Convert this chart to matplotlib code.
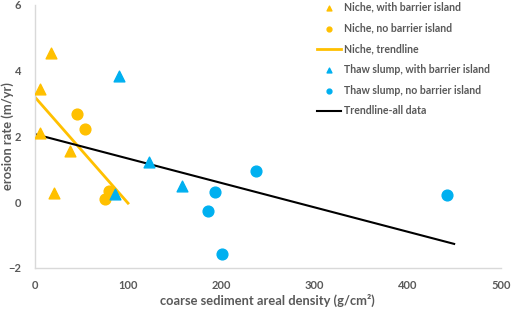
import numpy as np
import matplotlib.pyplot as plt

plt.rcParams['font.family'] = ['Lato', 'DejaVu Sans']

# niche, with barrier island
niche_bi_x = [17, 6, 5.5, 37.5, 20.5]
niche_bi_y = [4.55, 3.45, 2.1, 1.55, 0.27]
# niche, no barrier island
niche_nb_x = [45, 53.5, 75, 80]
niche_nb_y = [2.67, 2.24, 0.1, 0.35]
# thaw slump, with barrier island
thaw_bi_x = [90, 122, 158, 86]
thaw_bi_y = [3.85, 1.22, 0.5, 0.25]
# thaw slump, no barrier island
thaw_nb_x = [193, 186, 201, 237, 442]
thaw_nb_y = [0.3, -0.27, -1.58, 0.94, 0.21]
# trendlines (end points)
niche_trend_x = [0, 100]
niche_trend_y = [3.2, -0.03]
all_trend_x = [0, 450]
all_trend_y = [2.07, -1.27]

orange = '#FFC000'
blue = '#00B0F0'
grey = '#595959'

fig = plt.figure(figsize=(5.12, 3.09), dpi=100)
ax = fig.add_axes([0.068, 0.133, 0.91, 0.851])

ax.scatter(niche_bi_x, niche_bi_y, marker='^', s=60, color=orange,
           label='Niche, with barrier island', zorder=3)
ax.scatter(niche_nb_x, niche_nb_y, marker='o', s=60, color=orange,
           label='Niche, no barrier island', zorder=3)
ax.plot(niche_trend_x, niche_trend_y, color=orange, lw=2,
        label='Niche, trendline', zorder=2)
ax.scatter(thaw_bi_x, thaw_bi_y, marker='^', s=60, color=blue,
           label='Thaw slump, with barrier island', zorder=3)
ax.scatter(thaw_nb_x, thaw_nb_y, marker='o', s=60, color=blue,
           label='Thaw slump, no barrier island', zorder=3)
ax.plot(all_trend_x, all_trend_y, color='black', lw=1.5,
        label='Trendline-all data', zorder=2)

ax.set_xlim(0, 500)
ax.set_ylim(-2, 6)
ax.set_xticks([0, 100, 200, 300, 400, 500])
ax.set_yticks([-2, 0, 2, 4, 6])
for s in ['top', 'right']:
    ax.spines[s].set_visible(False)
for s in ['left', 'bottom']:
    ax.spines[s].set_color('#D9D9D9')
    ax.spines[s].set_linewidth(1)
ax.tick_params(length=0, labelsize=8, labelcolor=grey)
ax.tick_params(axis='x', pad=9)
ax.tick_params(axis='y', pad=10)
for lab in ax.get_xticklabels() + ax.get_yticklabels():
    lab.set_fontweight('bold')

ax.set_xlabel('coarse sediment areal density (g/cm²)', fontsize=9.3,
              color=grey, fontweight='bold', va='center')
ax.set_ylabel('erosion rate (m/yr)', fontsize=9.3, color=grey,
              fontweight='bold', va='center')
ax.xaxis.set_label_coords(0.5, -0.125)
ax.yaxis.set_label_coords(-0.058, 0.5)

leg = ax.legend(loc='upper left', bbox_to_anchor=(0.605, 1.012), frameon=False,
                fontsize=7.6, markerscale=0.45, handlelength=2.27,
                handletextpad=0.28, labelspacing=0.92, borderpad=0,
                borderaxespad=0)
for t in leg.get_texts():
    t.set_color(grey)
    t.set_fontweight('bold')

fig.savefig('out.png', dpi=100)
